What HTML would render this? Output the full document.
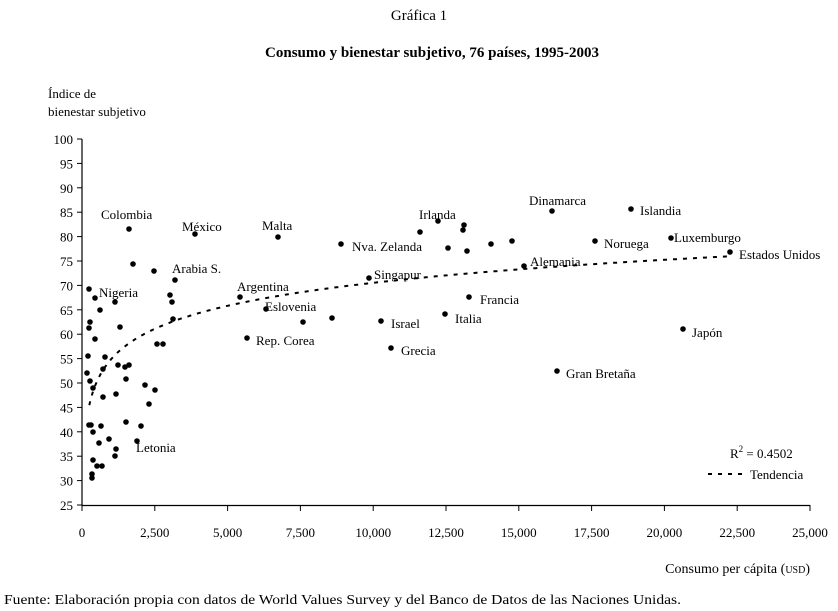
<!DOCTYPE html>
<html><head><meta charset="utf-8"><style>
body{margin:0;background:#fff;}
svg{display:block;font-family:"Liberation Serif",serif;}
svg text{font-family:"Liberation Serif",serif;}
</style></head><body>
<svg id="s" width="838" height="611" viewBox="0 0 838 611" xmlns="http://www.w3.org/2000/svg">
<text x="419" y="20" text-anchor="middle" font-size="15">Gráfica 1</text>
<text x="432" y="57" text-anchor="middle" font-size="15" font-weight="bold">Consumo y bienestar subjetivo, 76 países, 1995-2003</text>
<text x="48" y="98" font-size="13">Índice de</text>
<text x="48" y="116" font-size="13">bienestar subjetivo</text>
<g id="ax" stroke="#000" stroke-width="1.2" fill="none">
<line x1="82" y1="139" x2="82" y2="506"/>
<line x1="82" y1="505.5" x2="810" y2="505.5"/>
</g>
<g id="ticks" font-size="13"></g>
<path id="trend" fill="none" stroke="#000" stroke-width="2" stroke-dasharray="4,6"/>
<g id="dots"></g>
<g font-size="13">
<text x="101" y="219">Colombia</text>
<text x="182" y="231">México</text>
<text x="262" y="230">Malta</text>
<text x="172" y="273">Arabia S.</text>
<text x="99" y="297">Nigeria</text>
<text x="237" y="291">Argentina</text>
<text x="265" y="311">Eslovenia</text>
<text x="256" y="345">Rep. Corea</text>
<text x="136" y="452">Letonia</text>
<text x="352" y="251">Nva. Zelanda</text>
<text x="374" y="279">Singapur</text>
<text x="391" y="328">Israel</text>
<text x="401" y="355">Grecia</text>
<text x="419" y="219">Irlanda</text>
<text x="455" y="323">Italia</text>
<text x="480" y="304">Francia</text>
<text x="530" y="266">Alemania</text>
<text x="529" y="205">Dinamarca</text>
<text x="640" y="215">Islandia</text>
<text x="604" y="248">Noruega</text>
<text x="674" y="242">Luxemburgo</text>
<text x="739" y="259">Estados Unidos</text>
<text x="692" y="337">Japón</text>
<text x="566" y="378">Gran Bretaña</text>
<text x="730" y="458">R<tspan font-size="9" dy="-6">2</tspan><tspan dy="6"> = 0.4502</tspan></text>
<line x1="708" y1="474" x2="747" y2="474" stroke="#000" stroke-width="2" stroke-dasharray="4,6"/>
<text x="750" y="479">Tendencia</text>
<text x="810" y="573" text-anchor="end" font-size="14">Consumo per cápita (<tspan font-size="10">USD</tspan>)</text>
<text x="4" y="604" font-size="14" textLength="677" lengthAdjust="spacingAndGlyphs">Fuente: Elaboración propia con datos de World Values Survey y del Banco de Datos de las Naciones Unidas.</text>
</g>
</svg>
<script>
function px(x){return 82+x*0.02912}function py(y){return 505-(y-25)*4.88}
var t=document.getElementById('ticks'),h='';
for(var v=25;v<=100;v+=5){var y=py(v);h+='<line x1="77" y1="'+y+'" x2="82" y2="'+y+'" stroke="#000"/><text x="73" y="'+(y+5)+'" text-anchor="end">'+v+'</text>';}
var xl=['0','2,500','5,000','7,500','10,000','12,500','15,000','17,500','20,000','22,500','25,000'];
for(var i=0;i<=10;i++){var x=px(i*2500);h+='<line x1="'+x+'" y1="505" x2="'+x+'" y2="511" stroke="#000"/><text x="'+x+'" y="537" text-anchor="middle">'+xl[i]+'</text>';}
t.innerHTML=h;
var d='';for(var x=250;x<=22300;x+=50){var y=7.9+6.8*Math.log(x);d+=(d?'L':'M')+px(x).toFixed(1)+','+py(y).toFixed(1);}
document.getElementById('trend').setAttribute('d',d);
var P=[[129,229],[133,264],[154,271],[175,280],[195,234],[89,289],[95,298],[115,302],[100,310],[90,322],[89,328],[120,327],[95,339],[88,356],[105,357],[103,369],[118,365],[125,367],[129,365],[87,373],[90,381],[93,388],[126,379],[103,397],[116,394],[145,385],[155,390],[149,404],[89,425],[91,425],[101,426],[126,422],[141,426],[93,432],[99,443],[109,439],[116,449],[115,456],[137,441],[93,460],[97,466],[102,466],[92,474],[92,478],[157,344],[163,344],[170,295],[172,302],[173,319],[240,297],[266,309],[247,338],[278,237],[303,322],[332,318],[341,244],[369,278],[381,321],[391,348],[420,232],[438,221],[448,248],[463,230],[464,225],[467,251],[491,244],[512,241],[469,297],[445,314],[524,266],[552,211],[631,209],[595,241],[671,238],[730,252],[683,329],[557,371]];
var g='';P.forEach(function(p){g+='<circle cx="'+p[0]+'" cy="'+p[1]+'" r="2.8" fill="#000"/>';});
document.getElementById('dots').innerHTML=g;
</script>
</body></html>
